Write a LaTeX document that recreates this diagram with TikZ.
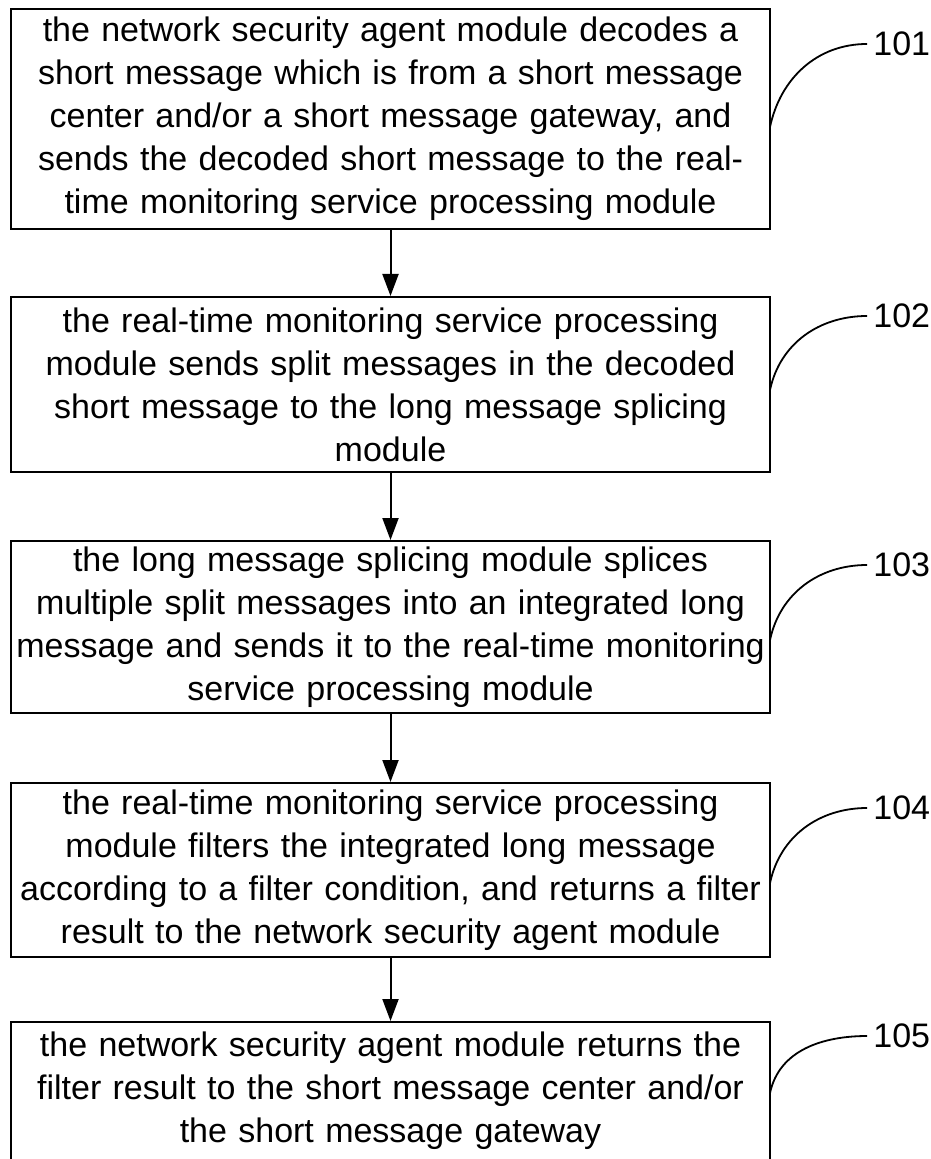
\documentclass[tikz,border=0pt]{standalone}
\usepackage{fontspec}
\setmainfont{Liberation Sans}
\usetikzlibrary{arrows.meta}
\begin{document}
\begin{tikzpicture}[x=0.5pt,y=-0.5pt,
    stepbox/.style={draw,line width=1pt,text width=377pt,align=center,inner sep=1pt,
        minimum width=379.5pt,font=\fontsize{17pt}{21.5pt}\selectfont},
    freccia/.style={line width=1pt,-{Triangle[width=8pt,length=11pt]}},
    rif/.style={line width=0.9pt},
    num/.style={anchor=west,inner sep=3pt,font=\fontsize{17pt}{21.5pt}\selectfont}]
    % Area del disegno
    \useasboundingbox (0,0) rectangle (930,1159);
    \clip (0,0) rectangle (930,1159);

    % Blocchi dei passi
    \node[stepbox,minimum height=110pt] (s101) at (390.5,119) {the network security agent module decodes a\\
        short message which is from a short message\\
        center and/or a short message gateway, and\\
        sends the decoded short message to the real-\\
        time monitoring service processing module};
    \node[stepbox,minimum height=87.5pt] (s102) at (390.5,384.5) {the real-time monitoring service processing\\
        module sends split messages in the decoded\\
        short message to the long message splicing\\
        module};
    \node[stepbox,minimum height=86pt] (s103) at (390.5,627) {the long message splicing module splices\\
        multiple split messages into an integrated long\\
        message and sends it to the real-time monitoring\\
        service processing module};
    \node[stepbox,minimum height=87pt] (s104) at (390.5,870) {the real-time monitoring service processing\\
        module filters the integrated long message\\
        according to a filter condition, and returns a filter\\
        result to the network security agent module};
    \node[stepbox,minimum height=69pt] (s105) at (390.5,1091) {the network security agent module returns the\\
        filter result to the short message center and/or\\
        the short message gateway};

    % Frecce tra i passi
    \draw[freccia] (s101) -- (s102);
    \draw[freccia] (s102) -- (s103);
    \draw[freccia] (s103) -- (s104);
    \draw[freccia] (s104) -- (s105);

    % Numeri dei passi
    \node[num] (n101) at (867,44) {101};
    \node[num] (n102) at (867,316) {102};
    \node[num] (n103) at (867,565) {103};
    \node[num] (n104) at (867,808) {104};
    \node[num] (n105) at (867,1036) {105};

    % Richiami curvi
    \coordinate (a101) at (770,127);
    \coordinate (a102) at (770,390);
    \coordinate (a103) at (770,640);
    \coordinate (a104) at (770,883);
    \coordinate (a105) at (770,1093);
    \foreach \k in {101,102,103,104,105}
        \draw[rif] (a\k) to[out=78,in=180] (n\k.west);
\end{tikzpicture}
\end{document}
